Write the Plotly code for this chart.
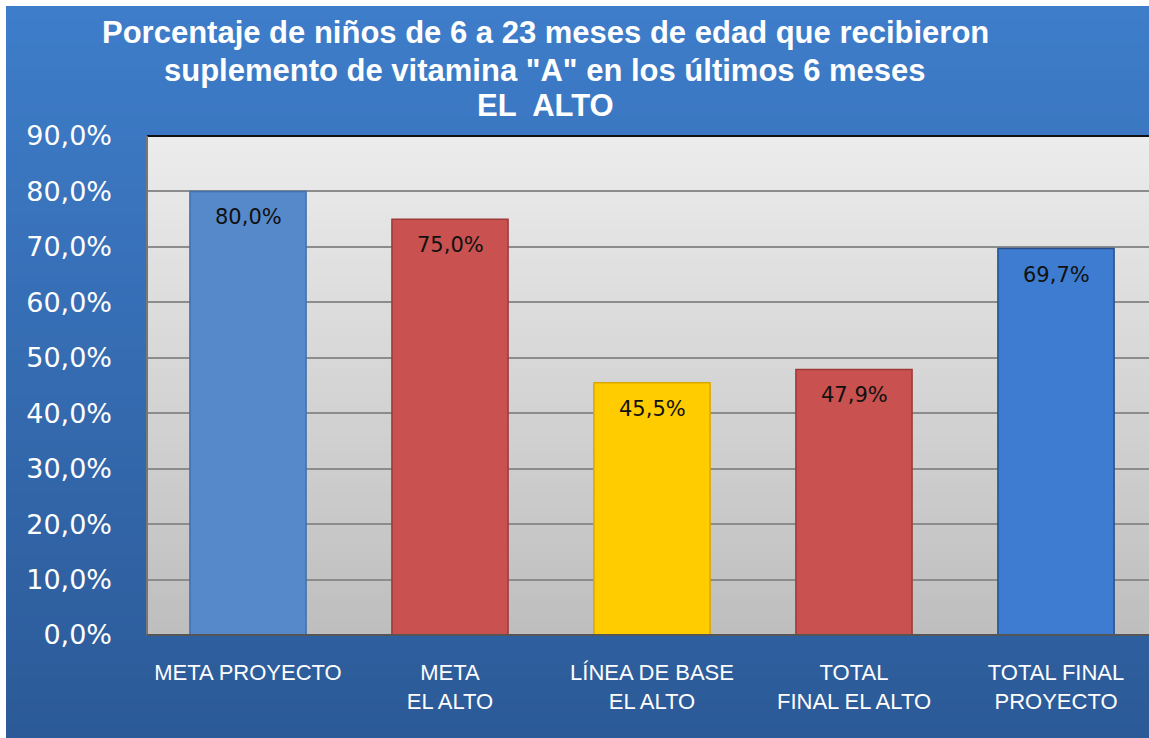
import plotly.graph_objects as go

categories = ["META PROYECTO", "META<br>EL ALTO", "LÍNEA DE BASE<br>EL ALTO",
              "TOTAL<br>FINAL EL ALTO", "TOTAL FINAL<br>PROYECTO"]
values = [0.800, 0.750, 0.455, 0.479, 0.697]
value_labels = ["80,0%", "75,0%", "45,5%", "47,9%", "69,7%"]
bar_colors = ["#5689C9", "#C9514F", "#FFCC00", "#C9514F", "#3D7CD0"]
line_colors = ["#3F6FAE", "#9E3A38", "#D9A800", "#9E3A38", "#254E8C"]
y_ticks = [0, 0.1, 0.2, 0.3, 0.4, 0.5, 0.6, 0.7, 0.8, 0.9]
title_lines = ["Porcentaje de niños de 6 a 23 meses de edad que recibieron",
               'suplemento de vitamina "A" en los últimos 6 meses',
               "EL  ALTO"]

W, H = 1149, 738
L, R, T, B = 147, 0, 136, 103
pw, ph = W - L - R, H - T - B

def px2paper_x(px):
    return (px - L) / pw

def px2paper_y(py):
    return (H - B - py) / ph

fig = go.Figure()
fig.add_trace(go.Bar(
    x=list(range(len(categories))), y=values,
    marker=dict(color=bar_colors, line=dict(color=line_colors, width=1.5)),
    width=0.575, hoverinfo="skip",
))

shapes = []
# outer blue gradient background
n = 60
top_c, bot_c = (62, 125, 202), (44, 90, 152)
y_start, y_end = 6, H
for i in range(n):
    f = i / (n - 1)
    c = tuple(int(round(top_c[k] + (bot_c[k] - top_c[k]) * f)) for k in range(3))
    ya = y_start + (y_end - y_start) * i / n
    yb = y_start + (y_end - y_start) * (i + 1) / n + 2
    shapes.append(dict(type="rect", xref="paper", yref="paper",
                       x0=px2paper_x(6), x1=px2paper_x(W + 5),
                       y0=px2paper_y(min(yb, H)), y1=px2paper_y(ya),
                       fillcolor="rgb(%d,%d,%d)" % c, line=dict(width=0), layer="below"))
# plot area gray gradient
top_g, bot_g = 236, 190
for i in range(n):
    f = i / (n - 1)
    g = int(round(top_g + (bot_g - top_g) * f))
    shapes.append(dict(type="rect", xref="paper", yref="paper",
                       x0=0, x1=1.01,
                       y0=max(1 - (i + 1) / n - 0.004, 0), y1=1 - i / n,
                       fillcolor="rgb(%d,%d,%d)" % (g, g, g), line=dict(width=0), layer="below"))
# plot area border lines
shapes.append(dict(type="line", xref="paper", yref="paper", x0=0, x1=1.01, y0=1, y1=1,
                   line=dict(color="#111111", width=2)))
shapes.append(dict(type="line", xref="paper", yref="paper", x0=0, x1=0, y0=0, y1=1,
                   line=dict(color="#777777", width=2)))
shapes.append(dict(type="line", xref="paper", yref="paper", x0=0, x1=1.01, y0=0, y1=0,
                   line=dict(color="#555555", width=2)))

annotations = []
for i, (v, lab) in enumerate(zip(values, value_labels)):
    annotations.append(dict(x=i, y=v, xref="x", yref="y", text=lab, showarrow=False,
                            yshift=-26, font=dict(family="DejaVu Sans", size=21, color="#111111")))
title_y_px = [32, 70, 106]
for txt, ypx in zip(title_lines, title_y_px):
    annotations.append(dict(x=px2paper_x(545), y=px2paper_y(ypx), xref="paper", yref="paper",
                            text="<b>%s</b>" % txt, showarrow=False, xanchor="center", yanchor="middle",
                            font=dict(family="Liberation Sans", size=31, color="white")))

fig.update_layout(
    width=W, height=H,
    margin=dict(l=L, r=R, t=T, b=B, pad=0),
    paper_bgcolor="white", plot_bgcolor="rgba(0,0,0,0)",
    separators=",.",
    showlegend=False,
    shapes=shapes,
    annotations=annotations,
    bargap=0.4,
)
fig.update_xaxes(
    range=[-0.5, -0.5 + pw / 202.0],
    tickmode="array", tickvals=list(range(len(categories))), ticktext=categories,
    tickfont=dict(family="Liberation Sans", size=22, color="white"),
    showgrid=False, zeroline=False, showline=False, ticks="",
    ticklabelstandoff=22,
)
fig.update_yaxes(
    range=[0, 0.9], tickvals=y_ticks, tickformat=".1%",
    tickfont=dict(family="DejaVu Sans", size=27, color="white"),
    showgrid=True, gridcolor="#8C8C8C", gridwidth=1.5,
    zeroline=False, showline=False, ticks="",
    ticklabelstandoff=34,
)

fig.write_html("out.html", config={"displayModeBar": False},
               post_script="document.body.style.margin='0';document.body.style.padding='0';")
